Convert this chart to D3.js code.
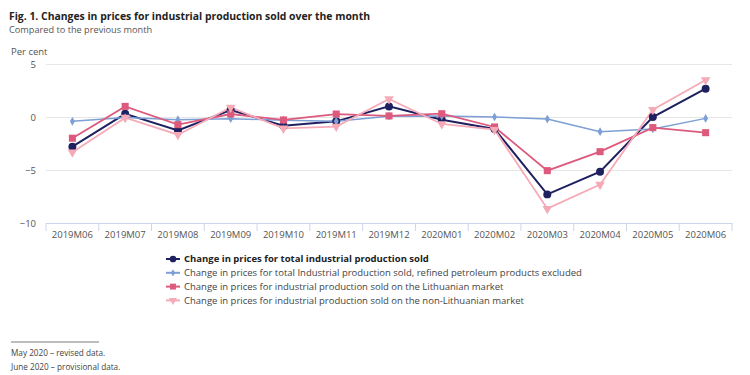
<!DOCTYPE html>
<html>
<head>
<meta charset="utf-8">
<script src="https://cdn.jsdelivr.net/npm/d3@7"></script>
<style>
  body { margin: 0; background: #fff; font-family: "Open Sans", sans-serif; }
  .tick text { fill: #555; font-size: 9.5px; font-family: "Open Sans", sans-serif; }
</style>
</head>
<body>
<div id="chart"></div>
<script>
// Chart data
const months = ["2019M06", "2019M07", "2019M08", "2019M09", "2019M10", "2019M11", "2019M12",
    "2020M01", "2020M02", "2020M03", "2020M04", "2020M05", "2020M06"];
const total = [-2.8, 0.3, -1.26, 0.66, -0.82, -0.41, 1.0, -0.25, -1.13, -7.3, -5.16, 0.0, 2.67];
const exclPetroleum = [-0.41, -0.05, -0.25, -0.16, -0.3, -0.41, 0.08, 0.1, 0.0, -0.2, -1.38, -1.13, -0.13];
const lithuanian = [-2.0, 1.0, -0.72, 0.28, -0.28, 0.28, 0.1, 0.31, -0.94, -5.06, -3.27, -1.0, -1.48];
const nonLithuanian = [-3.33, -0.06, -1.67, 0.9, -1.07, -0.9, 1.7, -0.66, -1.2, -8.65, -6.38, 0.69, 3.49];
const yTicks = [5, 0, -5, -10];

const seriesNames = [
    "Change in prices for total industrial production sold",
    "Change in prices for total Industrial production sold, refined petroleum products excluded",
    "Change in prices for industrial production sold on the Lithuanian market",
    "Change in prices for industrial production sold on the non-Lithuanian market"
];

const width = 750,
    height = 375,
    margin = ({ top: 64, right: 18, bottom: 152, left: 46 });

const series = [
    { name: seriesNames[0], values: total, color: "#1e2060", symbol: d3.symbolCircle, size: 50, sw: 2, bold: true },
    { name: seriesNames[1], values: exclPetroleum, color: "#7c9fd5", symbol: d3.symbolDiamond, size: 22, sw: 1.5 },
    { name: seriesNames[2], values: lithuanian, color: "#dd5a7d", symbol: d3.symbolSquare, size: 50, sw: 1.8 },
    { name: seriesNames[3], values: nonLithuanian, color: "#f5aab8", symbol: d3.symbolTriangle, size: 40, sw: 1.8, rot: 180 }
];

const svg = d3.select("#chart")
    .append("svg")
    .attr("width", width)
    .attr("height", height);

// Titles
svg.append("text")
    .attr("x", 9).attr("y", 20)
    .attr("font-size", 10.4).attr("font-weight", "bold").attr("fill", "#222")
    .text("Fig. 1. Changes in prices for industrial production sold over the month");
svg.append("text")
    .attr("x", 9).attr("y", 33)
    .attr("font-size", 9.2).attr("fill", "#555")
    .text("Compared to the previous month");
svg.append("text")
    .attr("x", 11).attr("y", 55)
    .attr("font-size", 9.5).attr("fill", "#555")
    .text("Per cent");

// Scales
let x = d3.scaleBand()
    .domain(months)
    .range([margin.left, width - margin.right]);

let y = d3.scaleLinear()
    .domain([-10, 5])
    .range([height - margin.bottom, margin.top]);

// Gridlines + y labels
let yAxis = svg.append("g")
    .attr("transform", `translate(${margin.left},0)`)
    .call(d3.axisLeft(y).tickValues(yTicks).tickSize(-(width - margin.left - margin.right)).tickPadding(10));
yAxis.select(".domain").remove();
yAxis.selectAll(".tick line").attr("stroke", "#e6e6e6");

// x axis with ticks between categories
let xAxis = svg.append("g")
    .attr("transform", `translate(0,${height - margin.bottom})`)
    .call(d3.axisBottom(x).tickSize(0).tickPadding(8));
xAxis.select(".domain").attr("stroke", "#ccd6eb");
xAxis.selectAll(".sep")
    .data(months.concat(["end"]))
    .join("line")
    .attr("class", "sep")
    .attr("x1", (d, i) => margin.left + i * x.bandwidth())
    .attr("x2", (d, i) => margin.left + i * x.bandwidth())
    .attr("y1", 0).attr("y2", 8)
    .attr("stroke", "#ccd6eb");

// Lines and markers
let line = d3.line()
    .x((d, i) => x(months[i]) + x.bandwidth() / 2)
    .y(d => y(d));

for (let s of series) {
    svg.append("path")
        .datum(s.values)
        .attr("d", line)
        .attr("fill", "none")
        .attr("stroke", s.color)
        .attr("stroke-width", s.sw);
}
for (let s of series) {
    svg.append("g").selectAll("path")
        .data(s.values)
        .join("path")
        .attr("d", d3.symbol(s.symbol, s.size))
        .attr("transform", (d, i) => `translate(${x(months[i]) + x.bandwidth() / 2},${y(d)}) rotate(${s.rot || 0})`)
        .attr("fill", s.color);
}

// Legend
let legend = svg.append("g")
    .selectAll("g")
    .data(series)
    .join("g")
    .attr("transform", (d, i) => `translate(166,${259 + i * 13.8})`);
legend.append("line")
    .attr("x1", 0).attr("x2", 14)
    .attr("stroke", d => d.color).attr("stroke-width", 2);
legend.append("path")
    .attr("d", d => d3.symbol(d.symbol, d.size * 0.7)())
    .attr("transform", d => `translate(7,0) rotate(${d.rot || 0})`)
    .attr("fill", d => d.color);
legend.append("text")
    .attr("x", 18).attr("dy", "0.35em")
    .attr("font-size", 9.5)
    .attr("font-weight", d => d.bold ? "bold" : "normal")
    .attr("fill", d => d.bold ? "#222" : "#444")
    .text(d => d.name);

// Footnotes
svg.append("line")
    .attr("x1", 11).attr("x2", 99)
    .attr("y1", 342).attr("y2", 342)
    .attr("stroke", "#444").attr("stroke-width", 0.7);
svg.append("text")
    .attr("x", 11).attr("y", 356)
    .attr("font-size", 8.2).attr("fill", "#444")
    .text("May 2020 – revised data.");
svg.append("text")
    .attr("x", 11).attr("y", 370)
    .attr("font-size", 8.2).attr("fill", "#444")
    .text("June 2020 – provisional data.");
</script>
</body>
</html>
